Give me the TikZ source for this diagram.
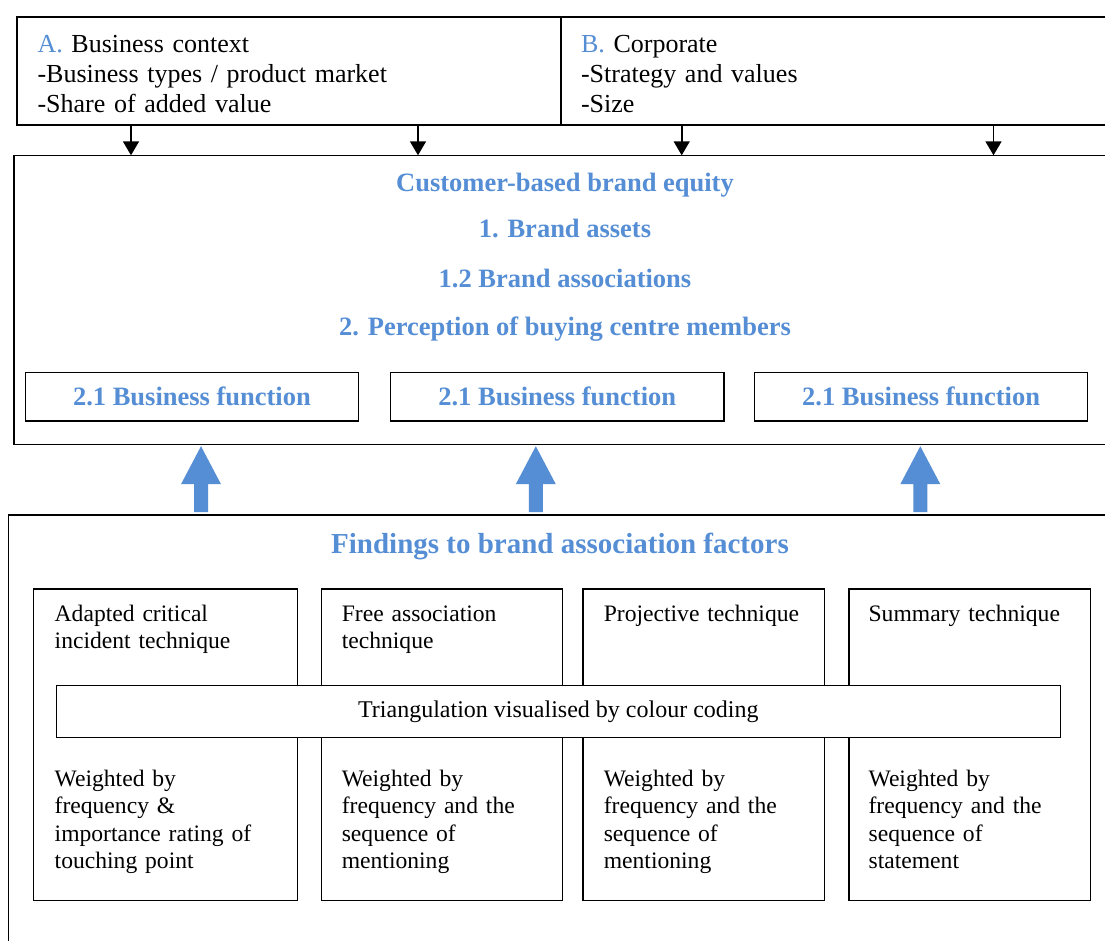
\documentclass[tikz,border=0pt]{standalone}
\usepackage{fontspec}
\setmainfont{Liberation Serif}
\usetikzlibrary{arrows.meta,calc}
\definecolor{headblue}{RGB}{85,142,213}

% thick blue block arrow pointing up from the findings frame to the brand-equity frame
\newcommand{\upshaft}[1]{%
  \fill[headblue]
    ($(find.north -| #1)+(-7,-3)$) --
    ($(find.north -| #1)+(7,-3)$) --
    ($(cbe.south -| #1)+(7,39.5)$) --
    ($(cbe.south -| #1)+(20,39.5)$) --
    ($(cbe.south -| #1)+(0,1.5)$) --
    ($(cbe.south -| #1)+(-20,39.5)$) --
    ($(cbe.south -| #1)+(-7,39.5)$) -- cycle;}

\begin{document}
\begin{tikzpicture}[x=1pt,y=-1pt,
  frame/.style={draw=black, line width=1.5pt, inner sep=0pt, outer sep=0pt, anchor=north west},
  plain/.style={inner sep=0pt, outer sep=0pt, anchor=base west, align=left},
  toptext/.style={plain, text width=500pt, font=\fontsize{26}{30}\selectfont},
  bodytext/.style={plain, text width=225pt, font=\fontsize{23.6}{27.2}\selectfont},
  heading/.style={inner sep=0pt, outer sep=0pt, anchor=base, text=headblue, font=\fontsize{26.5}{30}\selectfont\bfseries},
  blk/.style={draw=black, line width=1.6pt, -{Triangle[length=14pt,width=16pt]}},
]
\useasboundingbox (0,0) rectangle (1105,940);
\fill[white] (0,0) rectangle (1105,940);
\clip (0,0) rectangle (1105,940);

% context frames
\node[frame, minimum width=544pt, minimum height=108pt] (ctxA) at (17,17) {};
\node[frame, minimum width=560pt, minimum height=108pt] (ctxB) at (561,17) {};
\node[toptext] (ctxAtxt) at (37.5,52) {\textcolor{headblue}{A.} Business context\\-Business types / product market\\-Share of added value};
\node[toptext] (ctxBtxt) at (581,52) {\textcolor{headblue}{B.} Corporate\\-Strategy and values\\-Size};

% customer-based brand equity frame
\node[frame, minimum width=1110pt, minimum height=289.4pt] (cbe) at (14,155.3) {};
\node[heading] (h1) at (565,191.7) {Customer-based brand equity};
\node[heading] (h2) at (565,237.3) {1. Brand assets};
\node[heading] (h3) at (565,287.3) {1.2 Brand associations};
\node[heading] (h4) at (565,335) {2. Perception of buying centre members};

\node[frame, minimum width=333.3pt, minimum height=48.3pt, text=headblue, font=\fontsize{26.5}{30}\selectfont\bfseries] (bf1) at (25.3,372.7) {2.1 Business function};
\node[frame, minimum width=333.1pt, minimum height=48.3pt, text=headblue, font=\fontsize{26.5}{30}\selectfont\bfseries] (bf2) at (390.7,372.7) {2.1 Business function};
\node[frame, minimum width=333.1pt, minimum height=48.3pt, text=headblue, font=\fontsize{26.5}{30}\selectfont\bfseries] (bf3) at (754.6,372.7) {2.1 Business function};

% findings frame
\node[frame, minimum width=1115pt, minimum height=445pt] (find) at (8.4,515) {};
\node[heading, font=\fontsize{29}{33}\selectfont\bfseries] (findt) at (560,553.3) {Findings to brand association factors};

% technique boxes
\node[frame, minimum width=264pt, minimum height=311.7pt] (t1) at (33.7,589) {};
\node[frame, minimum width=241pt, minimum height=311.7pt] (t2) at (321.5,589) {};
\node[frame, minimum width=241.3pt, minimum height=311.7pt] (t3) at (583,589) {};
\node[frame, minimum width=241.5pt, minimum height=311.7pt] (t4) at (849,589) {};

\node[frame, fill=white, minimum width=1004.1pt, minimum height=52.4pt, font=\fontsize{24}{27.2}\selectfont] (tri) at (56.3,685.3) {Triangulation visualised by colour coding};

\node[bodytext] (t1a) at (54.7,621) {Adapted critical\\incident technique};
\node[bodytext] (t2a) at (341.8,621) {Free association\\technique};
\node[bodytext] (t3a) at (603.8,621) {Projective technique};
\node[bodytext] (t4a) at (868.6,621) {Summary technique};

\node[bodytext] (t1b) at (54.7,786.7) {Weighted by\\frequency \&\\importance rating of\\touching point};
\node[bodytext] (t2b) at (341.8,786.7) {Weighted by\\frequency and the\\sequence of\\mentioning};
\node[bodytext] (t3b) at (603.8,786.7) {Weighted by\\frequency and the\\sequence of\\mentioning};
\node[bodytext] (t4b) at (868.6,786.7) {Weighted by\\frequency and the\\sequence of\\statement};

% black connectors from the context frames
\coordinate (a1) at (131,0);
\coordinate (a2) at (418,0);
\coordinate (a3) at (681.7,0);
\coordinate (a4) at (993.5,0);
\draw[blk] (ctxA.south -| a1) -- (cbe.north -| a1);
\draw[blk] (ctxA.south -| a2) -- (cbe.north -| a2);
\draw[blk] (ctxB.south -| a3) -- (cbe.north -| a3);
\draw[blk] (ctxB.south -| a4) -- (cbe.north -| a4);

% blue block arrows from the findings
\coordinate (b1) at (201,0);
\coordinate (b2) at (535.8,0);
\coordinate (b3) at (920.3,0);
\upshaft{b1}
\upshaft{b2}
\upshaft{b3}
\end{tikzpicture}
\end{document}
